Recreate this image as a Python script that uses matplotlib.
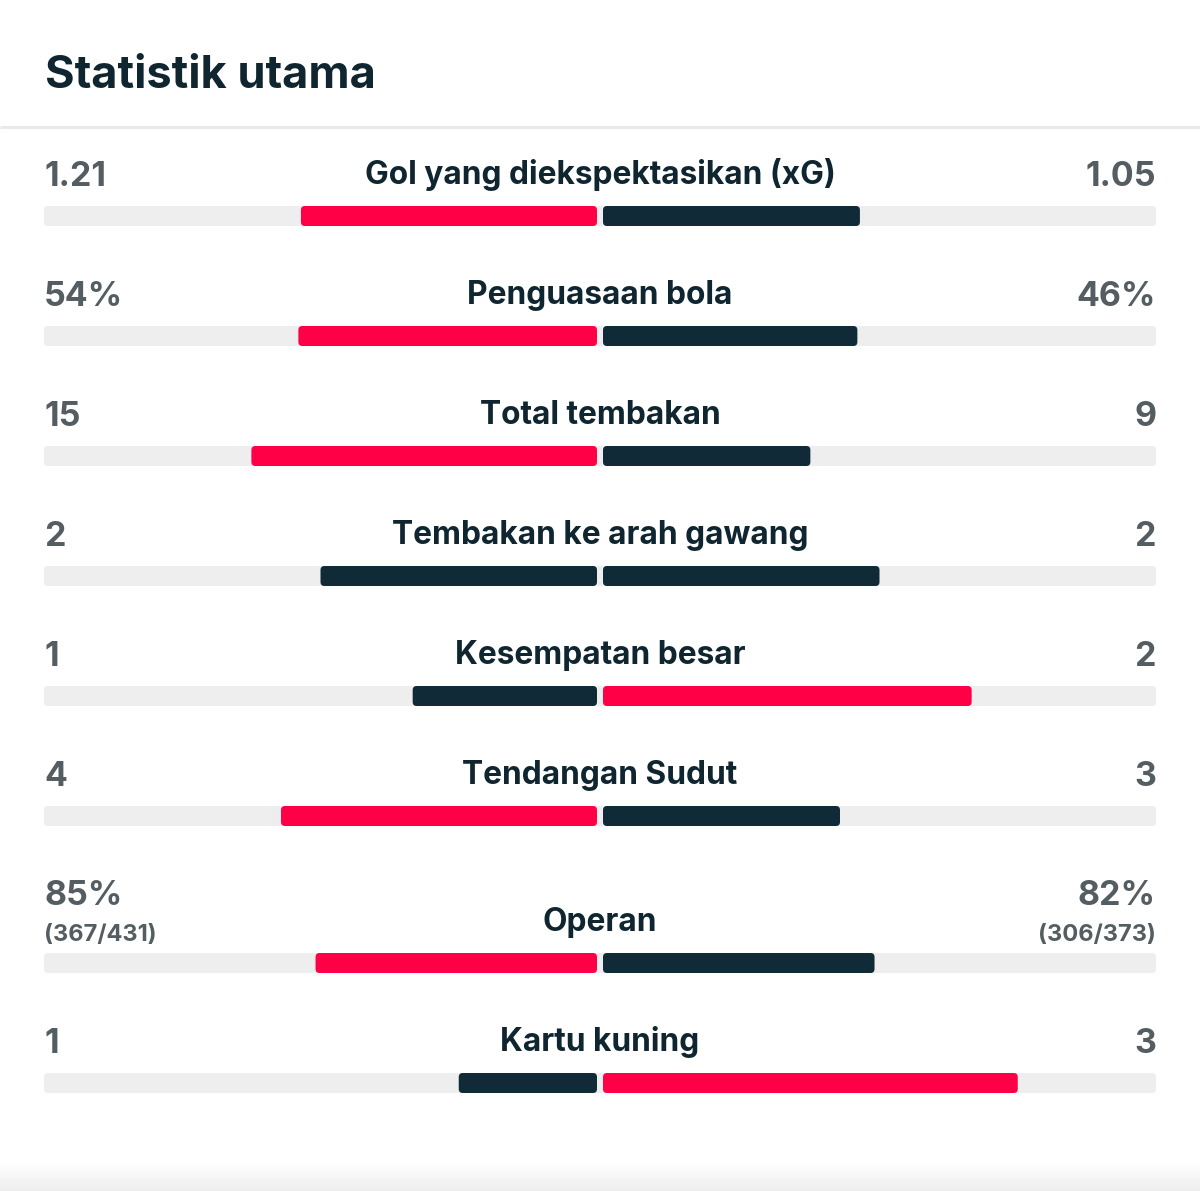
import numpy as np
import matplotlib
matplotlib.use("Agg")
import matplotlib.pyplot as plt
from matplotlib.patches import FancyBboxPatch

# Data
judul = "Statistik utama"
kategori = ["Gol yang diekspektasikan (xG)", "Penguasaan bola", "Total tembakan",
            "Tembakan ke arah gawang", "Kesempatan besar", "Tendangan Sudut",
            "Operan", "Kartu kuning"]
nilai_kiri = [1.21, 54, 15, 2, 1, 4, 85, 1]
nilai_kanan = [1.05, 46, 9, 2, 2, 3, 82, 3]
label_kiri = ["1.21", "54%", "15", "2", "1", "4", "85%", "1"]
label_kanan = ["1.05", "46%", "9", "2", "2", "3", "82%", "3"]
sub_kiri = ["", "", "", "", "", "", "(367/431)", ""]
sub_kanan = ["", "", "", "", "", "", "(306/373)", ""]

MERAH = "#ff0047"
GELAP = "#102b37"
ABU = "#eeeeee"
TEKS = "#0f2530"
TEKS_NILAI = "#535d62"

plt.rcParams['font.family'] = ['Inter', 'DejaVu Sans']

W, H = 1200, 1191
fig = plt.figure(figsize=(W / 100, H / 100), dpi=100)
ax = fig.add_axes([0, 0, 1, 1])
ax.set_xlim(0, W)
ax.set_ylim(H, 0)
ax.axis("off")

ax.text(45, 88, judul, fontsize=32.5, fontweight="bold", color=TEKS,
        va="baseline", ha="left")
ax.plot([0, W], [127, 127], color="#e9e9e9", lw=2.2, solid_capstyle="butt")

kiri, kanan, tengah = 44, 1156, 600
celah = 3
setengah = tengah - celah - kiri
tinggi = 20


def batang(x0, lebar, yc, warna):
    if lebar <= 0:
        return
    p = FancyBboxPatch((x0, yc - tinggi / 2), lebar, tinggi,
                       boxstyle="round,pad=0,rounding_size=4",
                       fc=warna, ec="none", mutation_aspect=1)
    ax.add_patch(p)


def tulis(x, y, s, ukuran, warna, ha):
    ax.text(x, y, s, fontsize=ukuran, fontweight="bold", color=warna,
            ha=ha, va="baseline")


y_bar = 216
for i, nama in enumerate(kategori):
    ada_sub = sub_kiri[i] != ""
    if ada_sub:
        y_bar += 27
    a, b = nilai_kiri[i], nilai_kanan[i]
    total = a + b
    fa, fb = a / total, b / total
    if a > b:
        wa, wb = MERAH, GELAP
    elif b > a:
        wa, wb = GELAP, MERAH
    else:
        wa, wb = GELAP, GELAP

    batang(kiri, kanan - kiri, y_bar, ABU)
    batang(tengah - celah - fa * setengah, fa * setengah, y_bar, wa)
    batang(tengah + celah, fb * setengah, y_bar, wb)

    tulis(tengah, y_bar - 32, nama, 22.8, TEKS, "center")
    if ada_sub:
        tulis(kiri, y_bar - 58, label_kiri[i], 24.5, TEKS_NILAI, "left")
        tulis(kanan, y_bar - 58, label_kanan[i], 24.5, TEKS_NILAI, "right")
        tulis(kiri, y_bar - 22, sub_kiri[i], 17, TEKS_NILAI, "left")
        tulis(kanan, y_bar - 22, sub_kanan[i], 17, TEKS_NILAI, "right")
    else:
        tulis(kiri, y_bar - 30, label_kiri[i], 24.5, TEKS_NILAI, "left")
        tulis(kanan, y_bar - 30, label_kanan[i], 24.5, TEKS_NILAI, "right")
    y_bar += 120

# bayangan tipis di bawah
grad = np.linspace(1.0, 0.93, 30).reshape(-1, 1)
ax.imshow(grad, extent=(0, W, H, H - 30), cmap="gray", vmin=0, vmax=1,
          aspect="auto", zorder=0)
ax.set_xlim(0, W)
ax.set_ylim(H, 0)

fig.savefig("out.png", dpi=100, facecolor="white")
